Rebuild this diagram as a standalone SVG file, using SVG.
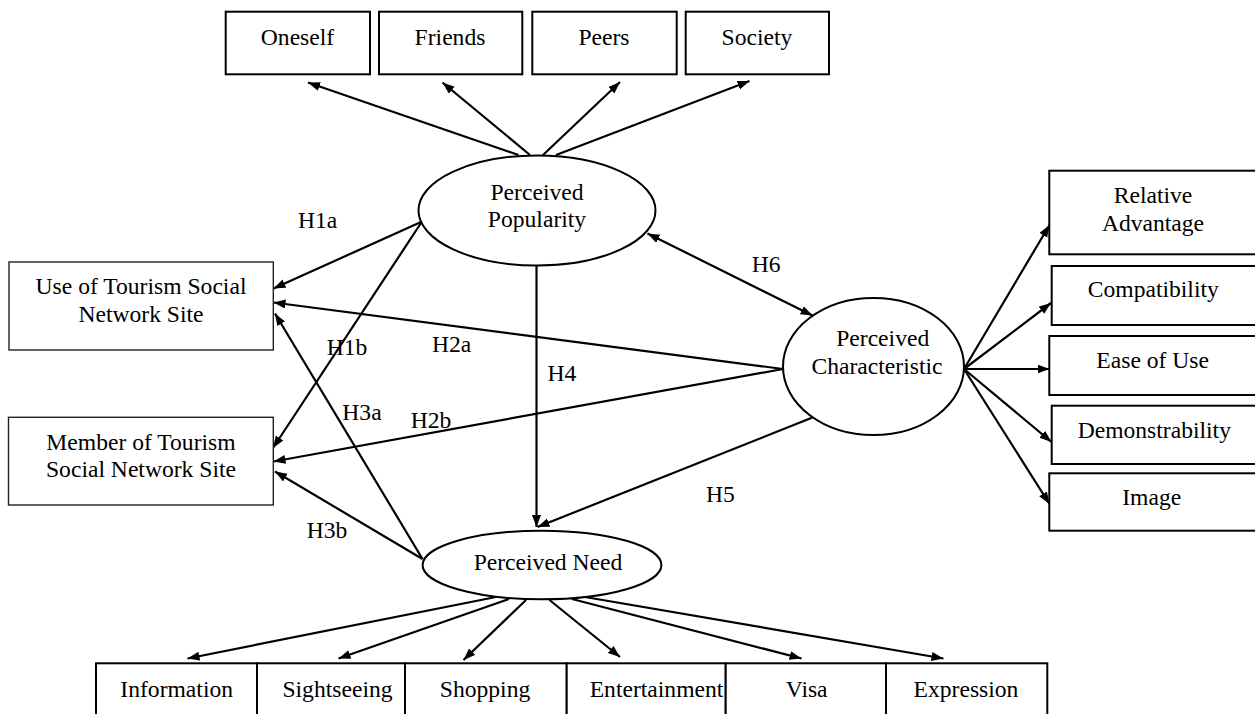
<svg xmlns="http://www.w3.org/2000/svg" width="1255" height="714" viewBox="0 0 1255 714">
<style>
  .box { fill: #fff; stroke: #000; stroke-width: 2; }
  .box-thin { fill: #fff; stroke: #222; stroke-width: 1.4; }
  .ell { fill: #fff; stroke: #000; stroke-width: 2; }
  .lbl { font-family: "Liberation Serif", "Times New Roman", serif; font-size: 23.6px; fill: #000; }
  .mid { text-anchor: middle; }
  .conn line { stroke: #000; stroke-width: 2.2; marker-end: url(#arr); }
</style>
<defs>
  <marker id="arr" markerUnits="userSpaceOnUse" markerWidth="13" markerHeight="10" refX="12" refY="4.5" orient="auto-start-reverse">
    <path d="M0,0 L12,4.5 L0,9 z" fill="#000"/>
  </marker>
</defs>
<rect width="1255" height="714" fill="#fff"/>

<g id="connectors" class="conn">
  <line x1="518.5" y1="155" x2="308" y2="82.5"/>
  <line x1="530" y1="155" x2="442.5" y2="82.5"/>
  <line x1="543" y1="155" x2="620" y2="82"/>
  <line x1="556" y1="155" x2="749.5" y2="81"/>
  <line x1="421" y1="222" x2="273.5" y2="288.5"/>
  <line x1="421" y1="223" x2="273" y2="448"/>
  <line x1="783" y1="369" x2="273.5" y2="302.5"/>
  <line x1="783" y1="369" x2="273.5" y2="461.5"/>
  <line x1="422.5" y1="559" x2="275" y2="313.5"/>
  <line x1="422.5" y1="559" x2="275" y2="471.5"/>
  <line x1="536.5" y1="266" x2="536.5" y2="527"/>
  <line x1="812.5" y1="417.5" x2="537.5" y2="527"/>
  <line x1="647.5" y1="233.5" x2="812.5" y2="315.5" marker-start="url(#arr)"/>
  <line x1="964" y1="369" x2="1049.5" y2="225"/>
  <line x1="964" y1="369" x2="1051" y2="303"/>
  <line x1="964" y1="369" x2="1049.5" y2="369"/>
  <line x1="964" y1="369" x2="1051.5" y2="442"/>
  <line x1="964" y1="369" x2="1049.5" y2="504"/>
  <line x1="496" y1="597" x2="187.5" y2="658.5"/>
  <line x1="509" y1="599" x2="338.5" y2="658.5"/>
  <line x1="526" y1="600" x2="463.5" y2="660"/>
  <line x1="549.5" y1="600" x2="620" y2="657"/>
  <line x1="572" y1="599" x2="801.5" y2="658.5"/>
  <line x1="585" y1="597" x2="943.5" y2="658.5"/>
</g>

<g id="labels">
  <text class="lbl" x="298" y="228">H1a</text>
  <text class="lbl" x="326.7" y="355">H1b</text>
  <text class="lbl" x="432" y="351.7">H2a</text>
  <text class="lbl" x="410.7" y="428">H2b</text>
  <text class="lbl" x="342.3" y="419.5">H3a</text>
  <text class="lbl" x="306.7" y="538.3">H3b</text>
  <text class="lbl" x="547.5" y="380.7">H4</text>
  <text class="lbl" x="706" y="501.7">H5</text>
  <text class="lbl" x="751.8" y="272">H6</text>
</g>

<g id="oneself"><rect class="box" x="225.7" y="11.7" width="144.3" height="62.6"/><text class="lbl mid" x="297.5" y="45">Oneself</text></g>
<g id="friends"><rect class="box" x="379" y="11.7" width="143.3" height="62.6"/><text class="lbl mid" x="450" y="45">Friends</text></g>
<g id="peers"><rect class="box" x="532.3" y="11.7" width="144.4" height="62.6"/><text class="lbl mid" x="604" y="45">Peers</text></g>
<g id="society"><rect class="box" x="685.7" y="11.7" width="143.3" height="62.6"/><text class="lbl mid" x="757" y="45">Society</text></g>

<g id="perceived-popularity"><ellipse class="ell" cx="537" cy="210.5" rx="118.5" ry="55"/><text class="lbl mid" x="537" y="200">Perceived</text><text class="lbl mid" x="537" y="227.3">Popularity</text></g>

<g id="use-tsns"><rect class="box-thin" x="9" y="262" width="264.3" height="88"/><text class="lbl mid" x="141" y="294">Use of Tourism Social</text><text class="lbl mid" x="141" y="322.3">Network Site</text></g>
<g id="member-tsns"><rect class="box-thin" x="8.5" y="417.3" width="264.8" height="87.7"/><text class="lbl mid" x="141" y="450">Member of Tourism</text><text class="lbl mid" x="141" y="476.7">Social Network Site</text></g>

<g id="perceived-characteristic"><ellipse class="ell" cx="873.5" cy="366.5" rx="90.5" ry="68.5"/><text class="lbl mid" x="882.7" y="346">Perceived</text><text class="lbl mid" x="877" y="374">Characteristic</text></g>

<g id="relative-advantage"><rect class="box" x="1049.3" y="170.7" width="212" height="83.6"/><text class="lbl mid" x="1153" y="202.7">Relative</text><text class="lbl mid" x="1153" y="230.7">Advantage</text></g>
<g id="compatibility"><rect class="box" x="1051.7" y="266" width="210" height="59"/><text class="lbl mid" x="1153.3" y="297.3">Compatibility</text></g>
<g id="ease-of-use"><rect class="box" x="1049.3" y="336" width="212" height="59"/><text class="lbl mid" x="1152.7" y="368.3">Ease of Use</text></g>
<g id="demonstrability"><rect class="box" x="1051.7" y="405.7" width="210" height="58.3"/><text class="lbl mid" x="1154.3" y="437.7">Demonstrability</text></g>
<g id="image"><rect class="box" x="1049.3" y="473.3" width="212" height="57.4"/><text class="lbl mid" x="1151.7" y="505">Image</text></g>

<g id="perceived-need"><ellipse class="ell" cx="542" cy="565" rx="119.4" ry="34.3"/><text class="lbl mid" x="548" y="570">Perceived Need</text></g>

<g id="information"><rect class="box" x="96" y="663.3" width="161" height="70"/><text class="lbl mid" x="176.7" y="696.7">Information</text></g>
<g id="sightseeing"><rect class="box" x="257" y="663.3" width="148" height="70"/><text class="lbl mid" x="337.5" y="696.7">Sightseeing</text></g>
<g id="shopping"><rect class="box" x="405" y="663.3" width="161.7" height="70"/><text class="lbl mid" x="485" y="696.7">Shopping</text></g>
<g id="entertainment"><rect class="box" x="566.7" y="663.3" width="159" height="70"/><text class="lbl mid" x="656.5" y="696.7">Entertainment</text></g>
<g id="visa"><rect class="box" x="725.7" y="663.3" width="160.3" height="70"/><text class="lbl mid" x="806.7" y="696.7">Visa</text></g>
<g id="expression"><rect class="box" x="886" y="663.3" width="161.3" height="70"/><text class="lbl mid" x="966" y="696.7">Expression</text></g>
</svg>
